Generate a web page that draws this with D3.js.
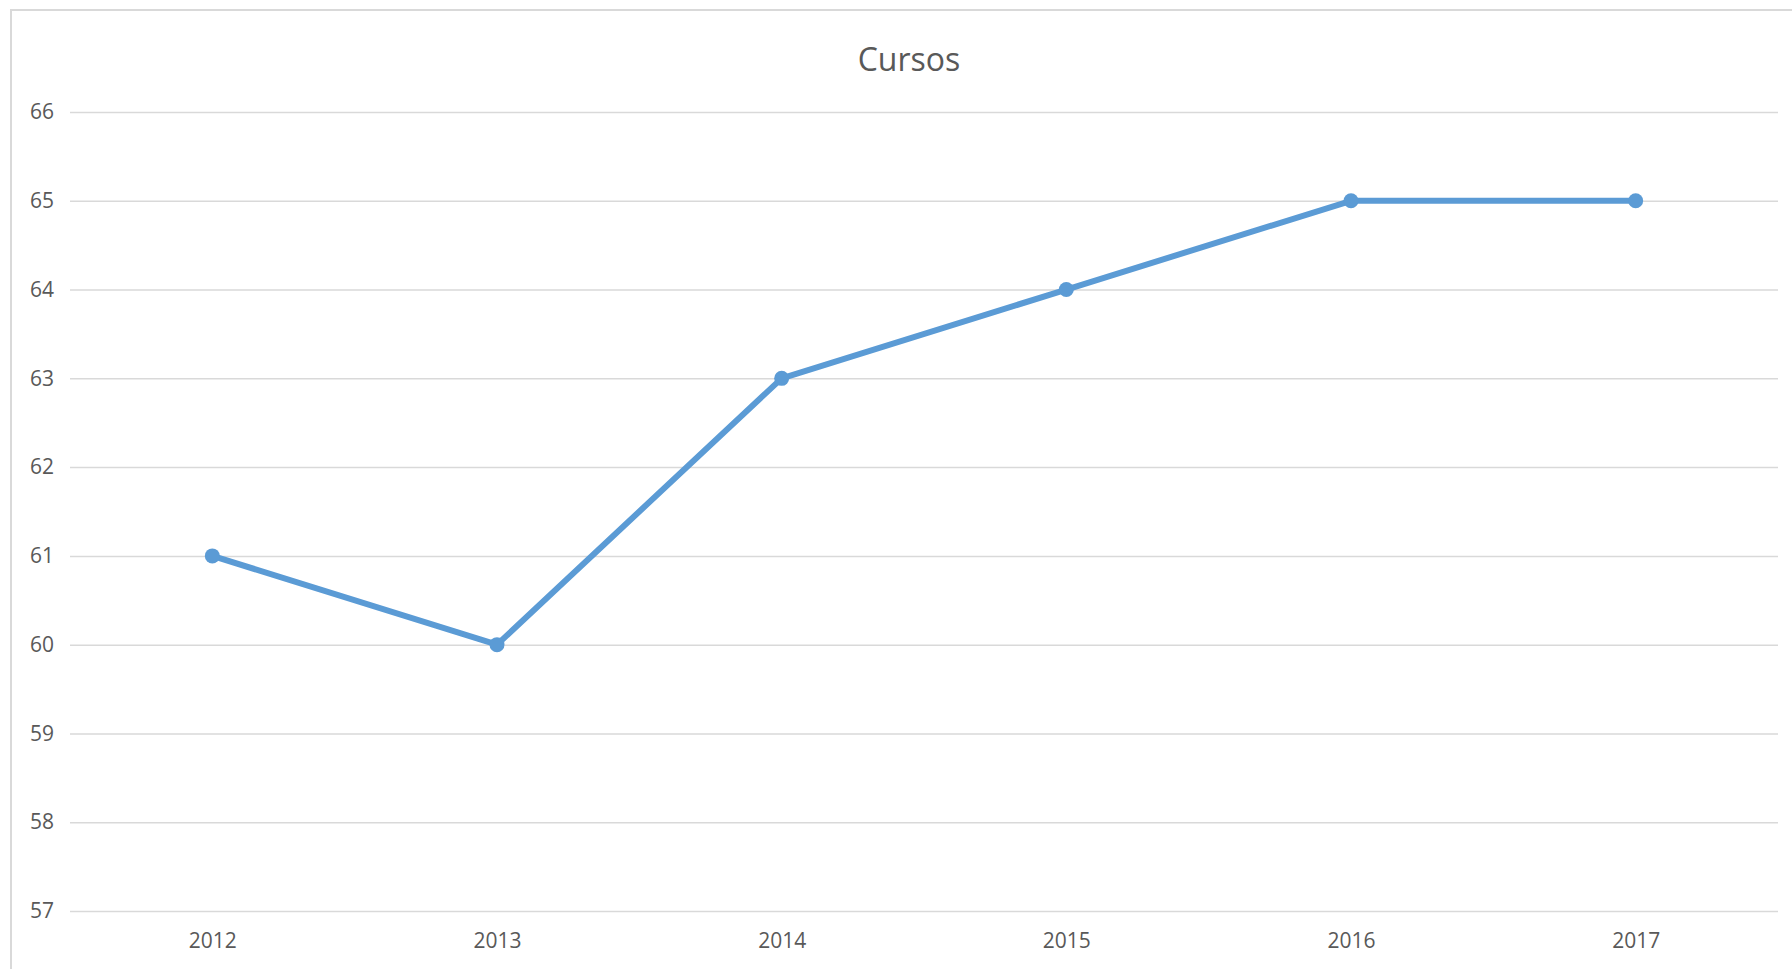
<!DOCTYPE html>
<html>
<head>
<meta charset="utf-8">
<script src="https://cdn.jsdelivr.net/npm/d3@7"></script>
<style>
  body { margin: 0; background: #fff; }
  svg { display: block; }
</style>
</head>
<body>
<div class="chart"></div>
<script>
const years = ["2012", "2013", "2014", "2015", "2016", "2017"];
const cursos = [61, 60, 63, 64, 65, 65];
const yTicks = [57, 58, 59, 60, 61, 62, 63, 64, 65, 66];
const chartTitle = "Cursos";

const width = 1792, height = 969;
const margin = {top: 112, right: 14, bottom: 58, left: 70};

let svg = d3.select(".chart").append("svg")
    .attr("width", width)
    .attr("height", height);

// chart frame
svg.append("rect")
    .attr("x", 11).attr("y", 10)
    .attr("width", width + 10).attr("height", height + 10)
    .attr("fill", "#fff")
    .attr("stroke", "#d9d9d9")
    .attr("stroke-width", 2);

let x = d3.scalePoint().domain(years).range([margin.left, width - margin.right]).padding(0.5),
    y = d3.scaleLinear().domain([57, 66]).range([height - margin.bottom, margin.top]);

let font = "'Open Sans', 'Liberation Sans', sans-serif";

// gridlines + y labels
svg.append("g")
    .attr("transform", "translate(" + margin.left + ",0)")
    .call(d3.axisLeft(y).tickValues(yTicks).tickSize(-(width - margin.left - margin.right)).tickPadding(16))
    .call(g => g.select(".domain").remove())
    .call(g => g.selectAll("line").attr("stroke", "#d9d9d9").attr("stroke-width", 1.5))
    .call(g => g.selectAll("text").attr("fill", "#595959").style("font", "21px " + font));

// x labels
svg.append("g")
    .attr("transform", "translate(0," + y(57) + ")")
    .call(d3.axisBottom(x).tickSize(0).tickPadding(22))
    .call(g => g.select(".domain").remove())
    .call(g => g.selectAll("text").attr("fill", "#595959").style("font", "21px " + font));

svg.append("text")
    .attr("x", 909)
    .attr("y", 71)
    .attr("text-anchor", "middle")
    .attr("fill", "#595959")
    .style("font", "32px " + font)
    .text(chartTitle);

let line = d3.line()
    .x((d, i) => x(years[i]))
    .y(d => y(d));

svg.append("path")
    .datum(cursos)
    .attr("fill", "none")
    .attr("stroke", "#5b9bd5")
    .attr("stroke-width", 6)
    .attr("stroke-linejoin", "round")
    .attr("d", line);

svg.selectAll(".dot")
    .data(cursos)
    .enter().append("circle")
    .attr("class", "dot")
    .attr("cx", (d, i) => x(years[i]))
    .attr("cy", d => y(d))
    .attr("r", 7.5)
    .attr("fill", "#5b9bd5");
</script>
</body>
</html>
